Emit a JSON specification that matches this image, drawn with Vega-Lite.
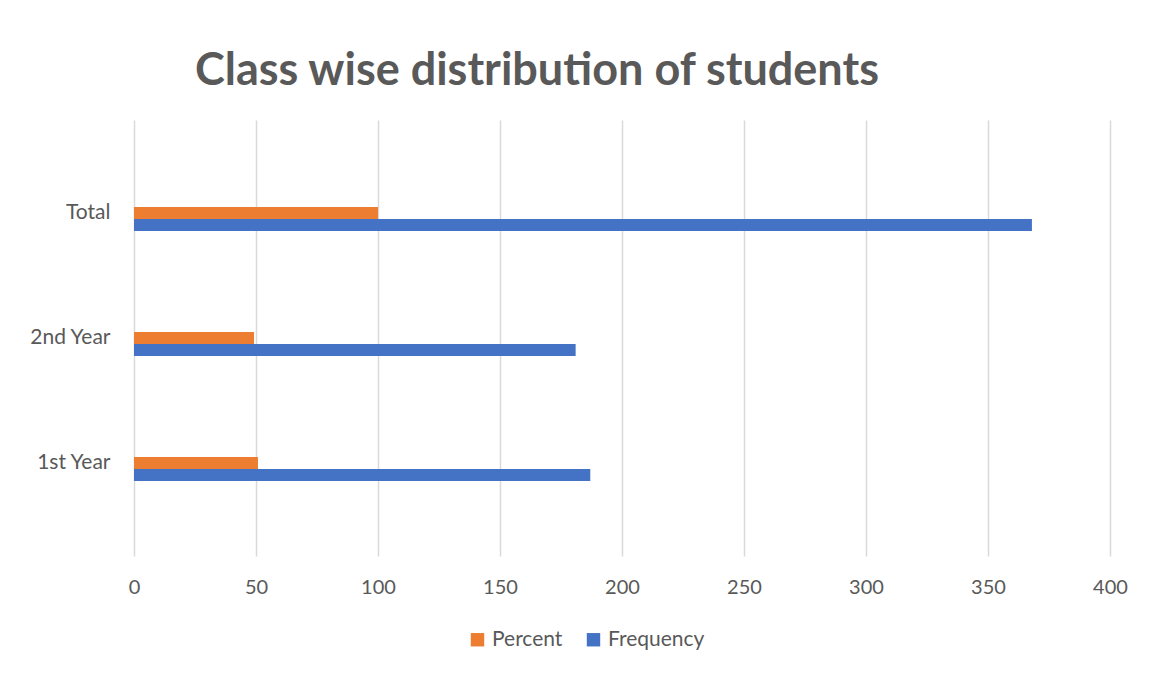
{
  "$schema": "https://vega.github.io/schema/vega-lite/v6.json",
  "autosize": {"type": "none"},
  "padding": {"left": 134, "top": 120, "right": 46, "bottom": 124},
  "width": 976,
  "height": 436,
  "background": "white",
  "title": {
    "text": "Class wise distribution of students",
    "font": "Lato",
    "fontSize": 45,
    "fontWeight": "bold",
    "color": "#595959",
    "anchor": "start",
    "dx": 166,
    "offset": 26
  },
  "data": {
    "values": [
      {"class": "Total", "series": "Percent", "value": 100},
      {"class": "Total", "series": "Frequency", "value": 368},
      {"class": "2nd Year", "series": "Percent", "value": 49.2},
      {"class": "2nd Year", "series": "Frequency", "value": 181},
      {"class": "1st Year", "series": "Percent", "value": 50.8},
      {"class": "1st Year", "series": "Frequency", "value": 187}
    ]
  },
  "encoding": {
    "y": {
      "field": "class",
      "type": "nominal",
      "sort": ["Total", "2nd Year", "1st Year"],
      "scale": {"paddingInner": 0, "paddingOuter": 0.244},
      "axis": {
        "title": null,
        "domain": false,
        "ticks": false,
        "labelFont": "Lato",
        "labelFontSize": 21,
        "labelColor": "#595959",
        "labelPadding": 24
      }
    },
    "x": {
      "field": "value",
      "type": "quantitative",
      "scale": {"domain": [0, 400], "nice": false},
      "axis": {
        "title": null,
        "values": [0, 50, 100, 150, 200, 250, 300, 350, 400],
        "domain": false,
        "ticks": false,
        "grid": true,
        "gridColor": "#D9D9D9",
        "gridWidth": 1.5,
        "labelFlush": false,
        "labelFont": "Lato",
        "labelFontSize": 20,
        "labelColor": "#595959",
        "labelPadding": 21
      }
    },
    "color": {
      "field": "series",
      "type": "nominal",
      "scale": {"domain": ["Percent", "Frequency"], "range": ["#ED7D31", "#4472C4"]},
      "legend": {
        "title": null,
        "orient": "none",
        "direction": "horizontal",
        "legendX": 333,
        "legendY": 509,
        "symbolType": "square",
        "symbolSize": 180,
        "symbolStrokeWidth": 0,
        "labelFont": "Lato",
        "labelFontSize": 21,
        "labelColor": "#595959",
        "columnPadding": 20,
        "labelOffset": 4
      }
    }
  },
  "layer": [
    {
      "transform": [{"filter": "datum.series === 'Percent'"}],
      "mark": {"type": "bar", "height": 12, "yOffset": 0}
    },
    {
      "transform": [{"filter": "datum.series === 'Frequency'"}],
      "mark": {"type": "bar", "height": 12, "yOffset": 12}
    }
  ],
  "config": {
    "view": {"stroke": null}
  }
}
